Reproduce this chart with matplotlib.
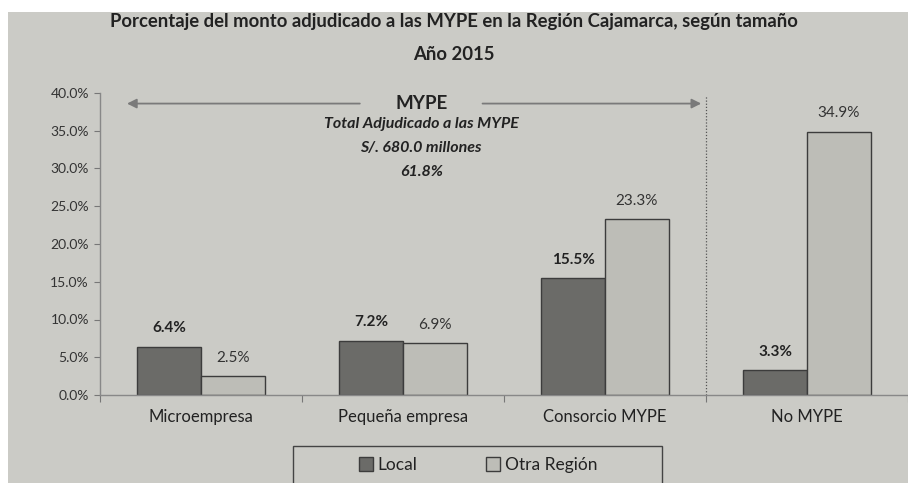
import numpy as np
import matplotlib.pyplot as plt
from matplotlib.patches import Rectangle

plt.rcParams['font.family'] = ['Lato', 'DejaVu Sans']

# Datos
categorias = ['Microempresa', 'Pequeña empresa', 'Consorcio MYPE', 'No MYPE']
local = [6.4, 7.2, 15.5, 3.3]
otra_region = [2.5, 6.9, 23.3, 34.9]
yticks = [0, 5, 10, 15, 20, 25, 30, 35, 40]

bg = '#cbcbc6'
c_local = '#6b6b68'
c_otra = '#bdbdb7'
edge = '#3c3c3c'
txt = '#222222'

fig = plt.figure(figsize=(9.08, 4.83), dpi=100, facecolor='white')
# fondo gris del area del grafico (borde blanco arriba e izquierda)
fig.patches.append(Rectangle((8/908, 0), 1, 1 - 12/483, transform=fig.transFigure,
                             facecolor=bg, edgecolor='none', zorder=-10))

ax = fig.add_axes([100/908, 1 - 395/483, 808/908, (395 - 93)/483])
ax.set_facecolor('none')

x = np.arange(len(categorias))
w = 0.315
b1 = ax.bar(x - w/2, local, w, color=c_local, edgecolor=edge, linewidth=1, label='Local')
b2 = ax.bar(x + w/2, otra_region, w, color=c_otra, edgecolor=edge, linewidth=1, label='Otra Región')

for r, v in zip(b1, local):
    ax.text(r.get_x() + r.get_width()/2, v + 1.5, f'{v:.1f}%', ha='center', va='bottom',
            fontsize=11, fontweight='bold', color=txt)
for r, v in zip(b2, otra_region):
    ax.text(r.get_x() + r.get_width()/2, v + 1.5, f'{v:.1f}%', ha='center', va='bottom',
            fontsize=11, color='#333333')

ax.set_xlim(-0.5, 3.5)
ax.set_ylim(0, 40)
ax.set_yticks(yticks)
ax.set_yticklabels([f'{t:.1f}%' for t in yticks], fontsize=10, color='#333333')
ax.set_xticks(np.arange(-0.5, 4.0, 1.0))
ax.set_xticklabels([])
ax.set_xticks(x, minor=True)
ax.set_xticklabels(categorias, minor=True, fontsize=12, color=txt)
ax.tick_params(axis='x', which='minor', length=0, pad=10)
ax.tick_params(axis='x', which='major', length=5, color='#777777', direction='out')
ax.tick_params(axis='y', length=4, color='#777777', direction='out', pad=4)
for s in ['top', 'right']:
    ax.spines[s].set_visible(False)
for s in ['left', 'bottom']:
    ax.spines[s].set_color('#888888')
    ax.spines[s].set_linewidth(1)

# linea divisoria MYPE / No MYPE
ax.axvline(2.5, ymin=0, ymax=0.995, color='#555555', linestyle=(0, (1, 1.5)), linewidth=0.9)

# flechas y textos MYPE
ax.annotate('', xy=(-0.38, 38.6), xytext=(0.8, 38.6),
            arrowprops=dict(arrowstyle='-|>', color='#7a7a7a', lw=1.3, mutation_scale=14))
ax.annotate('', xy=(2.49, 38.6), xytext=(1.38, 38.6),
            arrowprops=dict(arrowstyle='-|>', color='#7a7a7a', lw=1.3, mutation_scale=14))
ax.text(1.09, 38.6, 'MYPE', ha='center', va='center', fontsize=13.5, fontweight='bold', color=txt)
ax.text(1.09, 35.9, 'Total Adjudicado a las MYPE', ha='center', va='center', fontsize=11.5,
        fontweight='bold', fontstyle='italic', color=txt)
ax.text(1.09, 32.7, 'S/. 680.0 millones', ha='center', va='center', fontsize=11.5,
        fontweight='bold', fontstyle='italic', color=txt)
ax.text(1.09, 29.5, '61.8%', ha='center', va='center', fontsize=11.5,
        fontweight='bold', fontstyle='italic', color=txt)

fig.text(0.5, 1 - 22/483, 'Porcentaje del monto adjudicado a las MYPE en la Región Cajamarca, según tamaño',
         ha='center', va='center', fontsize=13.3, fontweight='bold', color=txt)
fig.text(0.5, 1 - 55/483, 'Año 2015', ha='center', va='center', fontsize=13.3,
         fontweight='bold', color=txt)

# caja de la leyenda
fig.patches.append(Rectangle((293/908, -0.01), (662 - 293)/908, 1 - 446/483 + 0.01,
                             transform=fig.transFigure, facecolor=bg, edgecolor='#444444',
                             linewidth=1, zorder=5))
leg = fig.legend(handles=[b1, b2], loc='center', bbox_to_anchor=(478/908, 1 - 465/483),
                 ncol=2, frameon=False, fontsize=12.5, handlelength=0.8, handleheight=0.8,
                 columnspacing=4.0, handletextpad=0.25)
leg.set_zorder(6)
for t in leg.get_texts():
    t.set_color(txt)

fig.savefig('out.png', dpi=100, facecolor=fig.get_facecolor())
